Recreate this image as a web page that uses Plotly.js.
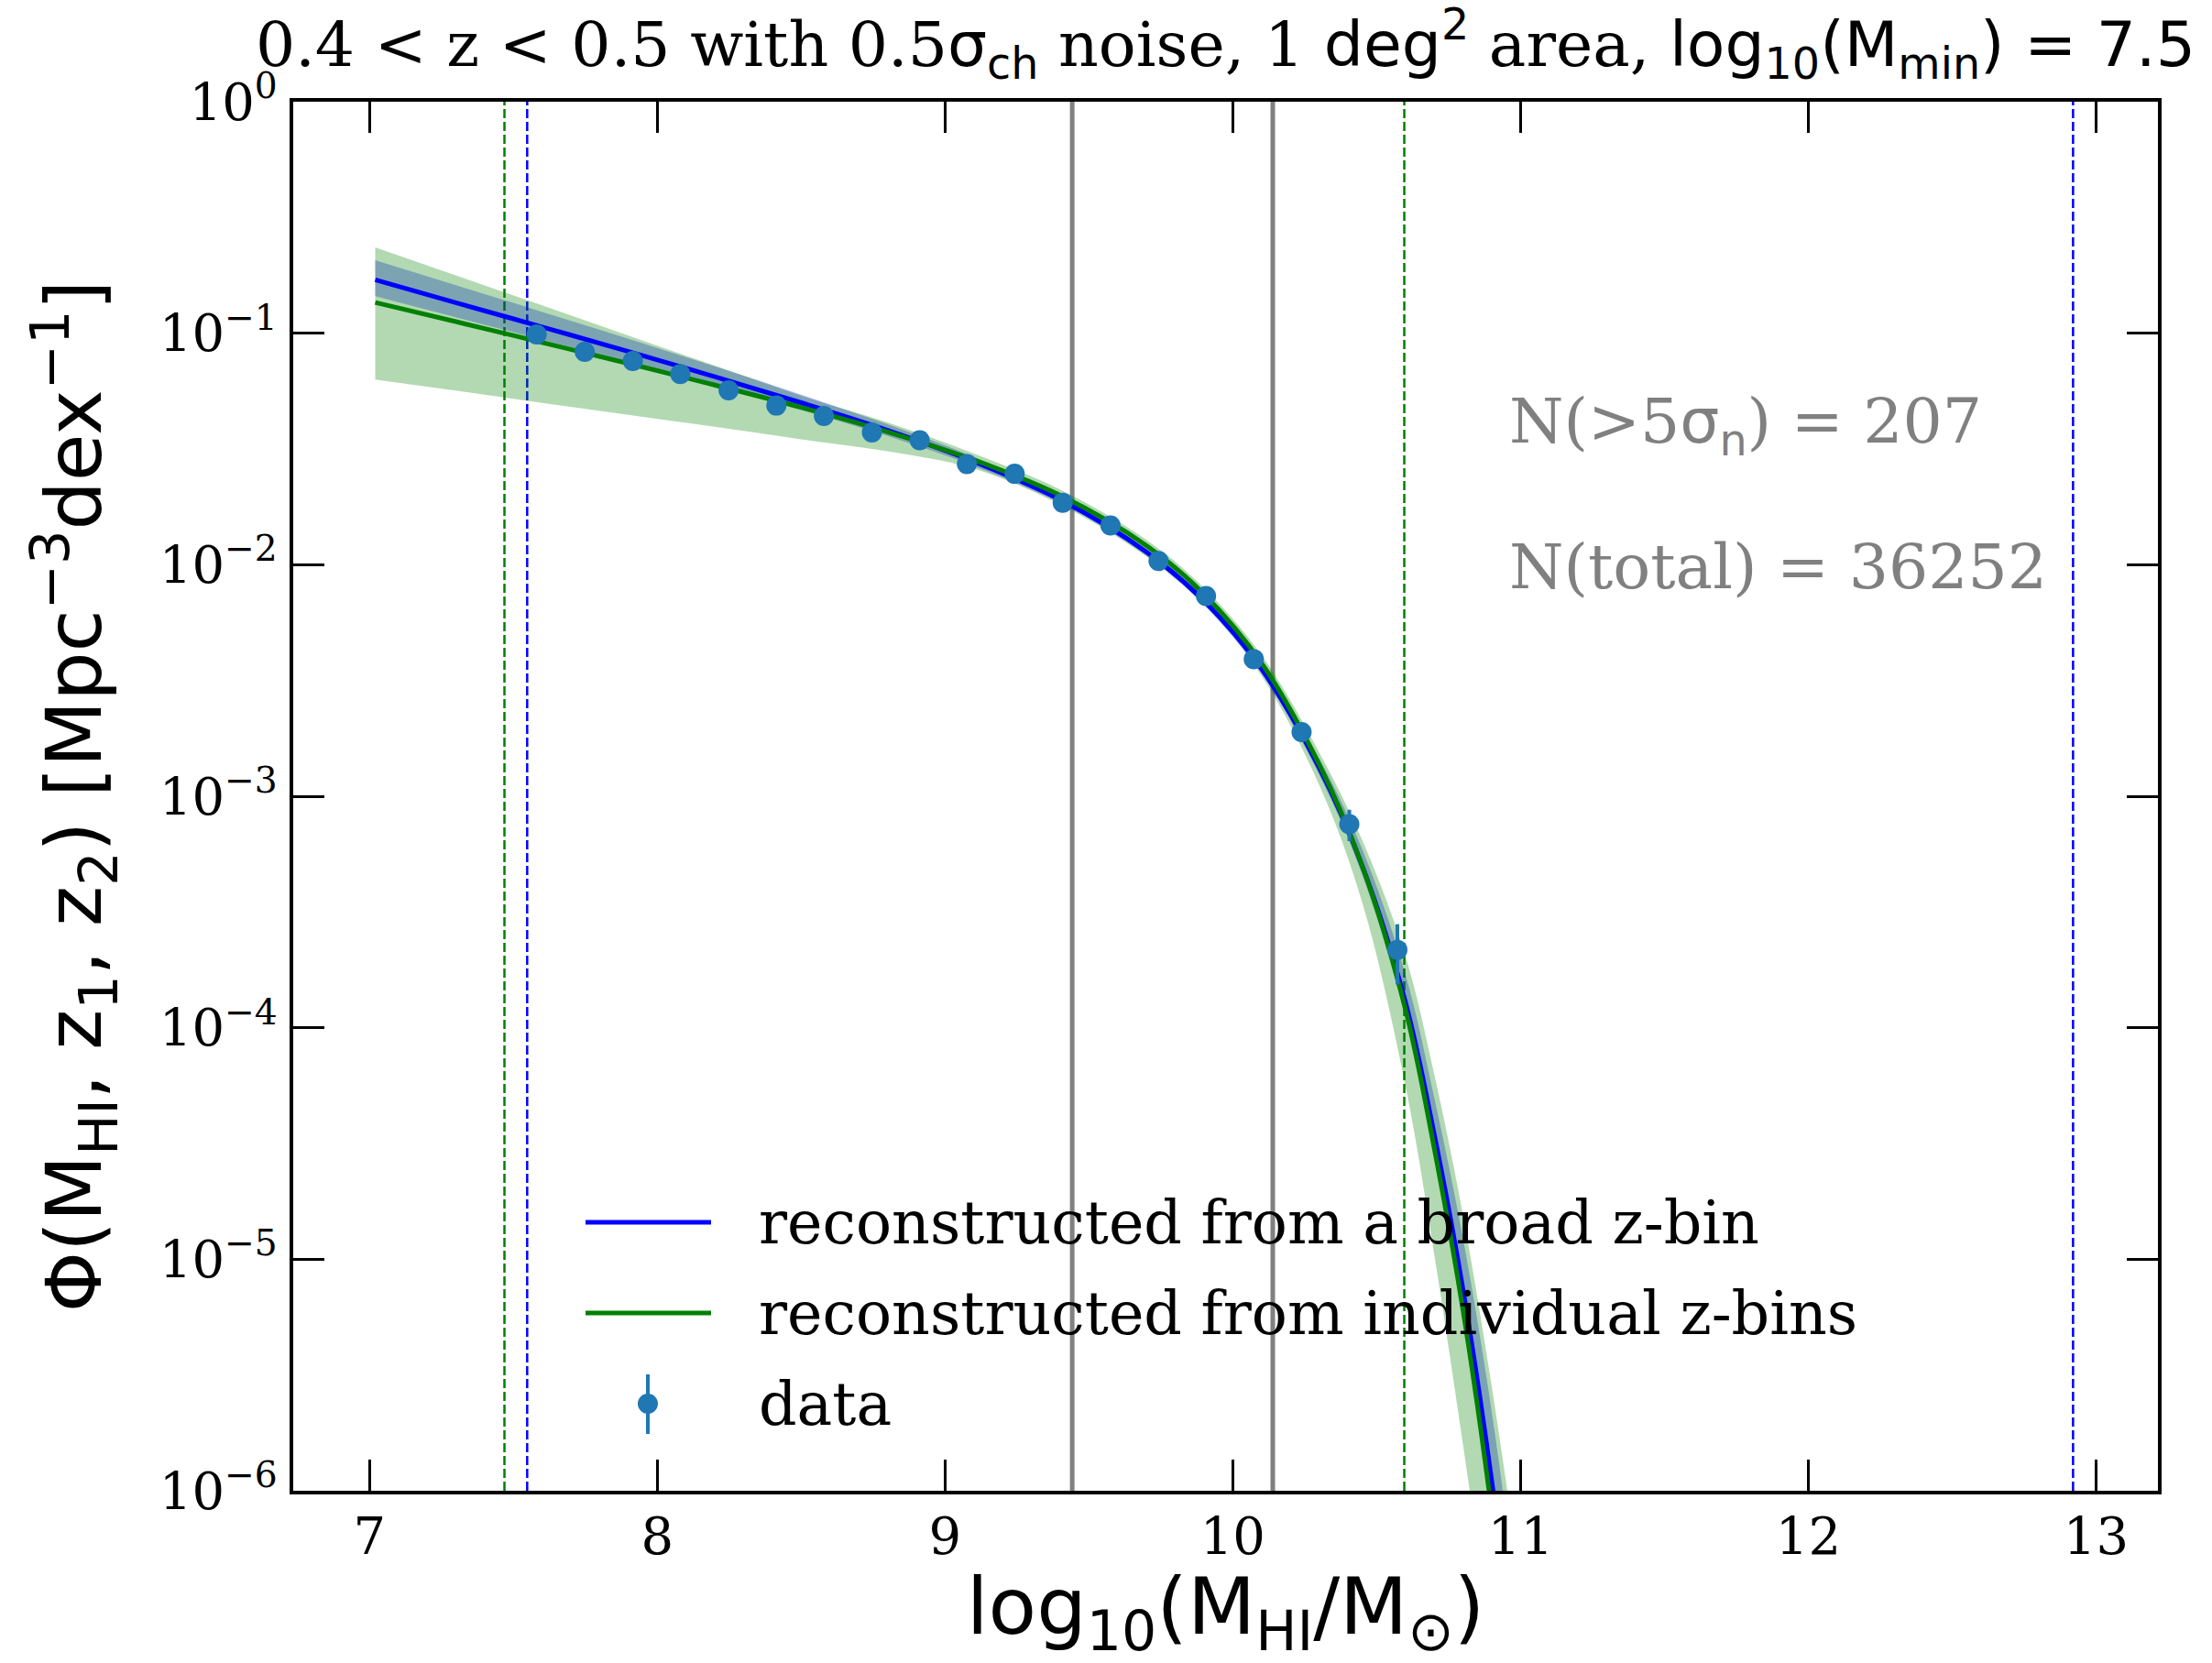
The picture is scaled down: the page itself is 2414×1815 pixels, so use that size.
<!DOCTYPE html>
<html>
<head>
<meta charset="utf-8">
<script src="https://cdn.plot.ly/plotly-3.0.1.min.js"></script>
<style>html,body{margin:0;padding:0;background:#fff}#chart{width:2414px;height:1815px}</style>
</head>
<body>
<div id="chart"></div>
<script>
// ---- data ----
const massBins = [7.581, 7.748, 7.915, 8.080, 8.248, 8.414, 8.579, 8.746, 8.912, 9.076, 9.242, 9.409, 9.575, 9.742, 9.907, 10.073, 10.239, 10.405, 10.572];
const phiData = [0.0988, 0.0831, 0.0759, 0.0666, 0.0567, 0.0487, 0.0439, 0.0373, 0.0345, 0.0272, 0.0247, 0.01853, 0.01477, 0.01038, 0.00733, 0.00391, 0.001894, 0.000757, 0.000217];
const phiErr = [0.0025, 0.002, 0.0018, 0.0016, 0.0014, 0.0012, 0.0011, 0.0009, 0.0009, 0.0007, 0.0007, 0.0005, 0.0004, 0.0003, 0.00024, 0.00014, 0.00009, 0.000117, 0.000063];

const massCurve = [7.02, 7.3, 7.6, 7.9, 8.2, 8.5, 8.8, 9.1, 9.4, 9.7, 9.9, 10.1, 10.3, 10.45, 10.6, 10.7, 10.8, 10.9, 11.0];
const phiBroad = [0.170, 0.1355, 0.1064, 0.0834, 0.0649, 0.0501, 0.0381, 0.0279, 0.0191, 0.01135, 0.00698, 0.00355, 0.00133, 5.0e-4, 1.29e-4, 3.47e-5, 7.4e-6, 1.10e-6, 1.02e-7];
const phiBroadHi = [0.2065, 0.1611, 0.1236, 0.0946, 0.0719, 0.0543, 0.0404, 0.02924, 0.01977, 0.01175, 0.00723, 0.00372, 0.001459, 5.89e-4, 1.70e-4, 5.0e-5, 1.23e-5, 2.19e-6, 2.57e-7];
const phiBroadLo = [0.1445, 0.1172, 0.0938, 0.0748, 0.0592, 0.0466, 0.0360, 0.02667, 0.01845, 0.01096, 0.00675, 0.00339, 0.00124, 4.57e-4, 1.12e-4, 2.88e-5, 5.9e-6, 8.1e-7, 7.1e-8];
const phiIndiv = [0.1358, 0.1122, 0.0912, 0.0740, 0.0597, 0.0478, 0.0375, 0.02838, 0.01995, 0.0121, 0.00746, 0.00376, 0.001374, 5.0e-4, 1.20e-4, 3.02e-5, 6.03e-6, 8.1e-7, 6.6e-8];
const phiIndivHi = [0.2350, 0.1778, 0.1318, 0.0977, 0.0724, 0.0537, 0.0412, 0.0302, 0.02113, 0.0128, 0.00794, 0.00407, 0.00155, 6.46e-4, 2.04e-4, 6.31e-5, 1.55e-5, 2.82e-6, 3.98e-7];
const phiIndivLo = [0.0631, 0.0565, 0.0500, 0.0444, 0.0394, 0.0348, 0.0309, 0.0260, 0.0182, 0.01084, 0.00668, 0.00331, 0.00112, 3.47e-4, 5.62e-5, 1.05e-5, 1.58e-6, 2.14e-7, 2.5e-8];

const grayLines = [9.442, 10.139];
const greenDashed = [7.469, 10.596];
const blueDashed = [7.548, 12.92];

const xTicks = [7, 8, 9, 10, 11, 12, 13];
const yTickVals = [1, 0.1, 0.01, 0.001, 0.0001, 0.00001, 0.000001];
const yTickText = ['10<sup>0</sup>', '10<sup>−1</sup>', '10<sup>−2</sup>', '10<sup>−3</sup>', '10<sup>−4</sup>', '10<sup>−5</sup>', '10<sup>−6</sup>'];

const legendLabels = ['reconstructed from a broad z-bin', 'reconstructed from individual z-bins', 'data'];
const countLabels = ['N(&gt;5<span style="font-family:DejaVu Sans">σ<sub>n</sub></span>) = 207', 'N(total) = 36252'];

// ---- styling ----
const SERIF = 'DejaVu Serif, serif';
const SANS = 'DejaVu Sans, sans-serif';
const BLUE = '#0000ff', GREEN = '#008000', DOT = '#1f77b4';

const traces = [
  {x: massCurve, y: phiBroadLo, type: 'scatter', mode: 'lines', line: {width: 0, shape: 'spline'}, showlegend: false, hoverinfo: 'skip'},
  {x: massCurve, y: phiBroadHi, type: 'scatter', mode: 'lines', fill: 'tonexty', fillcolor: 'rgba(0,0,255,0.3)', line: {width: 0, shape: 'spline'}, showlegend: false, hoverinfo: 'skip'},
  {x: massCurve, y: phiIndivLo, type: 'scatter', mode: 'lines', line: {width: 0, shape: 'spline'}, showlegend: false, hoverinfo: 'skip'},
  {x: massCurve, y: phiIndivHi, type: 'scatter', mode: 'lines', fill: 'tonexty', fillcolor: 'rgba(0,128,0,0.3)', line: {width: 0, shape: 'spline'}, showlegend: false, hoverinfo: 'skip'},
  {x: massCurve, y: phiBroad, type: 'scatter', mode: 'lines', name: legendLabels[0], line: {color: BLUE, width: 5, shape: 'spline'}, showlegend: false},
  {x: massCurve, y: phiIndiv, type: 'scatter', mode: 'lines', name: legendLabels[1], line: {color: GREEN, width: 5, shape: 'spline'}, showlegend: false},
  {x: massBins, y: phiData, type: 'scatter', mode: 'markers', name: legendLabels[2],
   marker: {color: DOT, size: 22, line: {width: 0}},
   error_y: {type: 'data', array: phiErr, visible: true, color: DOT, thickness: 4, width: 0},
   showlegend: false}
];

const shapes = [];
grayLines.forEach(v => shapes.push({type: 'line', xref: 'x', yref: 'paper', x0: v, x1: v, y0: 0, y1: 1, line: {color: '#808080', width: 5}, layer: 'below'}));
greenDashed.forEach(v => shapes.push({type: 'line', xref: 'x', yref: 'paper', x0: v, x1: v, y0: 0, y1: 1, line: {color: GREEN, width: 2.5, dash: '10px,4px'}, layer: 'below'}));
blueDashed.forEach(v => shapes.push({type: 'line', xref: 'x', yref: 'paper', x0: v, x1: v, y0: 0, y1: 1, line: {color: BLUE, width: 2.5, dash: '10px,4px'}, layer: 'below'}));

// manual legend keys (paper coordinates of the plot area)
const L = 320, R = 2355, T = 111, B = 1627;
const px = v => (v - L) / (R - L);
const py = v => (B - v) / (B - T);
const rowY = [1334, 1433, 1532];
shapes.push({type: 'line', xref: 'paper', yref: 'paper', x0: px(639), x1: px(776), y0: py(rowY[0]), y1: py(rowY[0]), line: {color: BLUE, width: 5}});
shapes.push({type: 'line', xref: 'paper', yref: 'paper', x0: px(639), x1: px(776), y0: py(rowY[1]), y1: py(rowY[1]), line: {color: GREEN, width: 5}});
shapes.push({type: 'line', xref: 'paper', yref: 'paper', x0: px(707), x1: px(707), y0: py(1500), y1: py(1565), line: {color: DOT, width: 4}});
shapes.push({type: 'circle', xref: 'paper', yref: 'paper', x0: px(696), x1: px(718), y0: py(rowY[2] + 11), y1: py(rowY[2] - 11), fillcolor: DOT, line: {width: 0}});

const annotations = [];
legendLabels.forEach((t, i) => annotations.push({xref: 'paper', yref: 'paper', x: px(826), y: py(rowY[i]), xanchor: 'left', yanchor: 'middle', showarrow: false, text: t, font: {family: SERIF, size: 65, color: '#000'}}));
annotations.push({xref: 'paper', yref: 'paper', x: px(1645), y: py(464), xanchor: 'left', yanchor: 'middle', showarrow: false, text: countLabels[0], font: {family: SERIF, size: 68, color: '#808080'}});
annotations.push({xref: 'paper', yref: 'paper', x: px(1645), y: py(618), xanchor: 'left', yanchor: 'middle', showarrow: false, text: countLabels[1], font: {family: SERIF, size: 68, color: '#808080'}});

const titleText = '0.4 &lt; z &lt; 0.5 with 0.5<span style="font-family:DejaVu Sans">σ<sub>ch</sub></span> noise, 1 <span style="font-family:DejaVu Sans">deg<sup>2</sup></span> area, <span style="font-family:DejaVu Sans">log<sub>10</sub>(M<sub>min</sub>) = 7.5</span>';

const axisCommon = {
  showgrid: false, zeroline: false, showline: true, linecolor: '#000', linewidth: 4,
  mirror: 'allticks', ticks: 'inside', ticklen: 34, tickwidth: 3, tickcolor: '#000',
  tickfont: {family: SERIF, size: 56, color: '#000'}
};

const layout = {
  width: 2414, height: 1815,
  margin: {l: L, r: 2414 - R, t: T, b: 1815 - B, autoexpand: false},
  paper_bgcolor: '#fff', plot_bgcolor: '#fff',
  showlegend: false, hovermode: false,
  title: {text: titleText, font: {family: SERIF, size: 68, color: '#000'}, x: 0.5, xref: 'paper', xanchor: 'center', y: 1 - 48 / 1815, yref: 'container', yanchor: 'middle'},
  xaxis: Object.assign({}, axisCommon, {
    range: [6.735, 13.215], tickvals: xTicks, ticktext: xTicks.map(String), ticklabelstandoff: -2,
    title: {text: 'log<sub>10</sub>(M<sub>HI</sub>/M<sub>⊙</sub>)', font: {family: SANS, size: 86, color: '#000'}, standoff: 26}
  }),
  yaxis: Object.assign({}, axisCommon, {
    type: 'log', range: [-6, 0], tickvals: yTickVals, ticktext: yTickText, ticklabelstandoff: 2,
    title: {text: 'Φ(M<sub>HI</sub>, z<sub>1</sub>, z<sub>2</sub>) [Mpc<sup>−3</sup>dex<sup>−1</sup>]', font: {family: SANS, size: 84, color: '#000'}, standoff: 36}
  }),
  shapes: shapes,
  annotations: annotations
};

Plotly.newPlot('chart', traces, layout, {displayModeBar: false, staticPlot: true});
</script>
</body>
</html>
